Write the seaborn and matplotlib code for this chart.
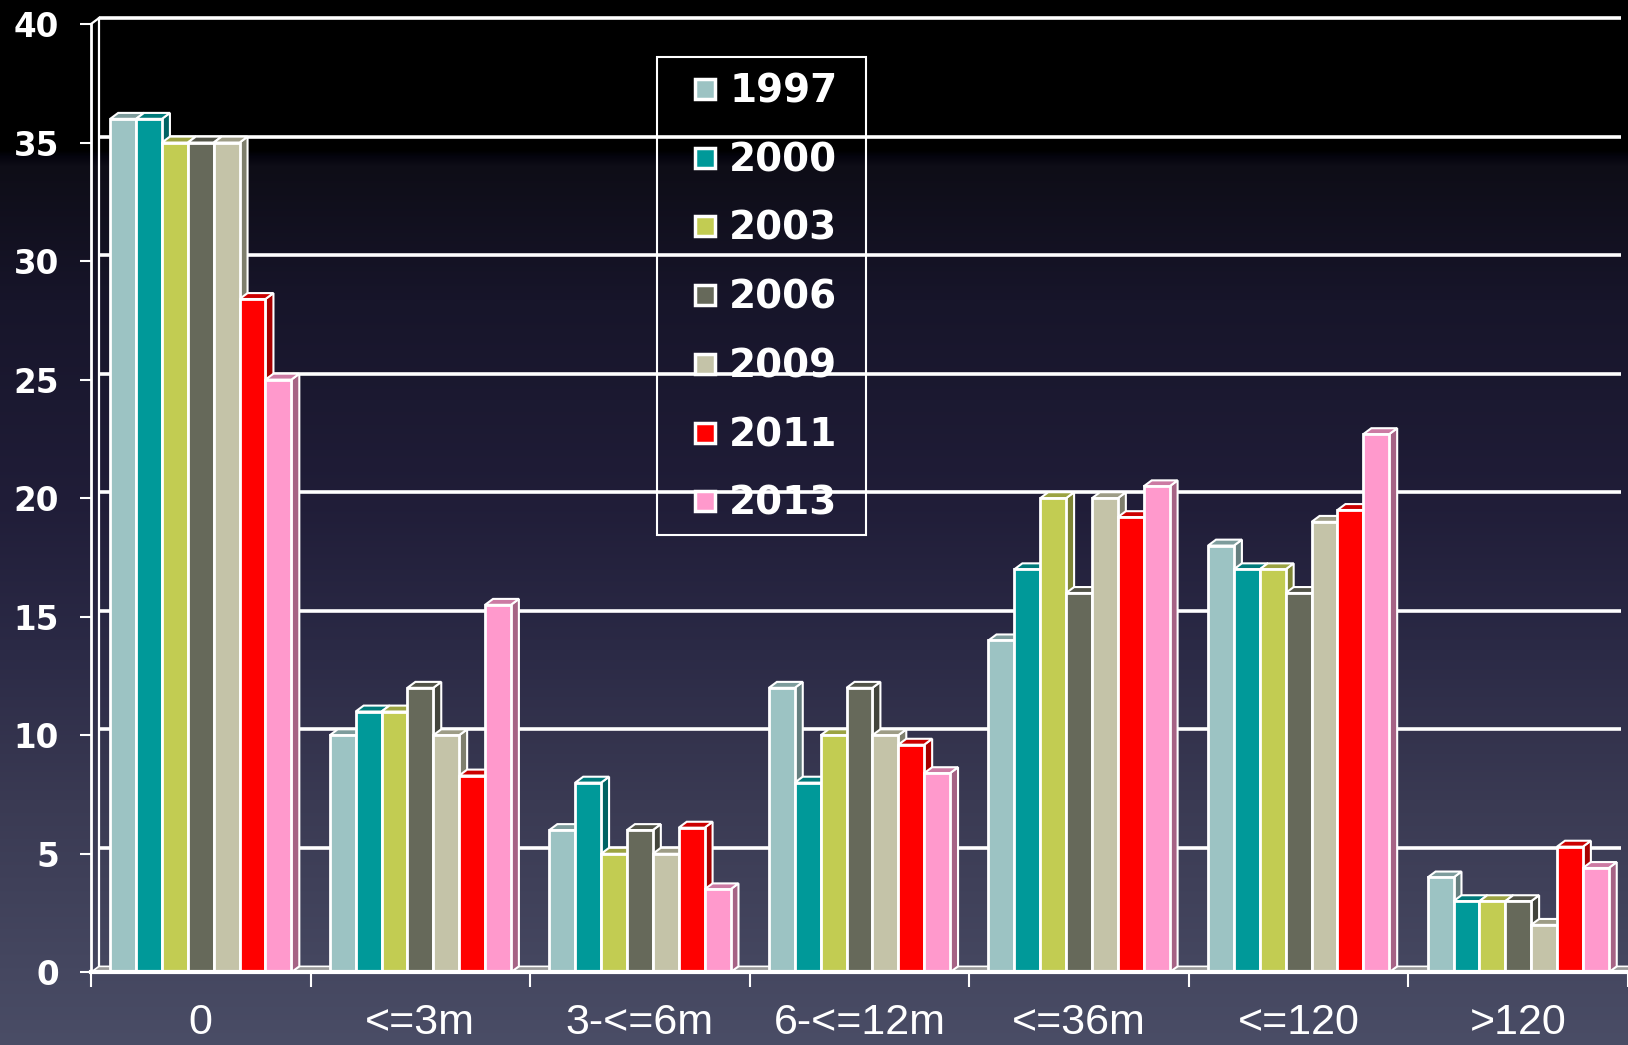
import numpy as np
import pandas as pd
import matplotlib
matplotlib.use("Agg")
import matplotlib.pyplot as plt
import seaborn as sns
from matplotlib.patches import Polygon, Rectangle
from matplotlib.lines import Line2D
from matplotlib.colors import to_rgb

# ---------------- data ----------------
categories = ['0', '<=3m', '3-<=6m', '6-<=12m', '<=36m', '<=120', '>120']
years = ['1997', '2000', '2003', '2006', '2009', '2011', '2013']
v1997 = [36, 10, 6, 12, 14, 18, 4]
v2000 = [36, 11, 8, 8, 17, 17, 3]
v2003 = [35, 11, 5, 10, 20, 17, 3]
v2006 = [35, 12, 6, 12, 16, 16, 3]
v2009 = [35, 10, 5, 10, 20, 19, 2]
v2011 = [28.4, 8.3, 6.1, 9.6, 19.2, 19.5, 5.3]
v2013 = [25, 15.5, 3.5, 8.4, 20.5, 22.7, 4.4]
yticks = [0, 5, 10, 15, 20, 25, 30, 35, 40]

colors = ['#9cc3c3', '#009999', '#c2cc52', '#66695a', '#c4c3a8', '#ff0000', '#ff99cc']

series = [v1997, v2000, v2003, v2006, v2009, v2011, v2013]
rows = []
for yr, vals in zip(years, series):
    for c, v in zip(categories, vals):
        rows.append({'cat': c, 'year': yr, 'val': v})
df = pd.DataFrame(rows)

# ---------------- figure ----------------
W, H = 1628, 1045
fig = plt.figure(figsize=(W / 100, H / 100), dpi=100)

# background gradient
stops_y = [0, 150, 156, 166, 300, 500, 650, 800, 1045]
stops_c = ['#000000', '#000000', '#04040e', '#0e0d17', '#17152a', '#201d38',
           '#2b2a46', '#3a3a53', '#4a4d66']
rgb = np.array([to_rgb(c) for c in stops_c])
yy = np.arange(H)
grad = np.stack([np.interp(yy, stops_y, rgb[:, k]) for k in range(3)], axis=1)
grad = np.repeat(grad[:, None, :], 4, axis=1)
bg = fig.add_axes([0, 0, 1, 1], zorder=0)
bg.imshow(grad, aspect='auto', extent=[0, 1, 0, 1], interpolation='bilinear')
bg.axis('off')

left_px, zero_px, top_px = 91, 972.3, 24
cat_px = 220.6
ax = fig.add_axes([left_px / W, 1 - zero_px / H, (W - left_px) / W, (zero_px - top_px) / H], zorder=1)
ax.set_facecolor('none')

sns.barplot(data=df, x='cat', y='val', hue='year', order=categories, hue_order=years,
            palette=colors, width=0.825, saturation=1, edgecolor='white', linewidth=2,
            ax=ax, legend=False, errorbar=None)

xmin = -0.5
xmax = -0.5 + (W - left_px) / cat_px
ax.set_xlim(xmin, xmax)
ax.set_ylim(0, 40)

dx = 8 / cat_px
dy = 0.25


def shade(c, f):
    r, g, b = to_rgb(c)
    return (r * f, g * f, b * f)


# 3D faces for each bar
for j, cont in enumerate(ax.containers):
    c = colors[j]
    for bar in cont:
        x = bar.get_x(); w = bar.get_width(); h = bar.get_height()
        base = 5 + 3 * j
        bar.set_zorder(base + 2)
        side = Polygon([(x + w, 0), (x + w + dx, dy), (x + w + dx, h + dy), (x + w, h)],
                       closed=True, fc=shade(c, 0.65), ec='white', lw=1.5, zorder=base,
                       clip_on=False)
        top = Polygon([(x, h), (x + dx, h + dy), (x + w + dx, h + dy), (x + w, h)],
                      closed=True, fc=shade(c, 0.8), ec='white', lw=1.5, zorder=base + 1,
                      clip_on=False)
        ax.add_patch(side)
        ax.add_patch(top)

# back-wall gridlines
for v in yticks[1:]:
    ax.plot([xmin + dx, xmax], [v + dy, v + dy], color='white', lw=2.6, zorder=1.5,
            clip_on=False, solid_capstyle='butt')
# back wall left edge & top diagonal
ax.plot([xmin + dx, xmin + dx], [dy, 40 + dy], color='white', lw=1.6, zorder=1.6, clip_on=False)
ax.plot([xmin, xmin + dx], [40, 40 + dy], color='white', lw=1.6, zorder=1.6, clip_on=False)
# floor
floor = Polygon([(xmin, 0), (xmax + 1, 0), (xmax + 1 + dx, dy), (xmin + dx, dy)], closed=True,
                fc='#9a9a9a', ec='white', lw=1.2, zorder=2, clip_on=False)
ax.add_patch(floor)

# spines
for s in ['top', 'right']:
    ax.spines[s].set_visible(False)
ax.spines['left'].set_color('white')
ax.spines['left'].set_linewidth(2)
ax.spines['bottom'].set_color('white')
ax.spines['bottom'].set_linewidth(3)
ax.spines['bottom'].set_zorder(40)
ax.spines['left'].set_zorder(40)

# y ticks
ax.set_yticks(yticks)
ax.set_yticklabels([str(v) for v in yticks], fontsize=23.5, fontweight='bold',
                   family='DejaVu Sans', color='white')
ax.tick_params(axis='y', colors='white', length=8, width=1.5, pad=15)

# x ticks: majors at boundaries, minors (labels) at centers
ax.set_xticks(np.arange(-0.5, 7.0, 1.0))
ax.set_xticklabels([])
ax.set_xticks(np.arange(len(categories)), minor=True)
ax.set_xticklabels(categories, minor=True, fontsize=31, family='Liberation Sans', color='white')
ax.tick_params(axis='x', which='major', length=11, width=1.5, color='white', direction='out')
ax.tick_params(axis='x', which='minor', length=0, pad=22)
ax.set_xlabel('')
ax.set_ylabel('')

# legend
handles = [Line2D([], [], marker='s', ls='none', markersize=14, markerfacecolor=c,
                  markeredgecolor='white', markeredgewidth=2.5) for c in colors]
leg = fig.legend(handles, years, loc='upper left',
                 bbox_to_anchor=(689.5 / W, 1 - 72.5 / H), frameon=False,
                 borderpad=0, borderaxespad=0, handlelength=0.8, handletextpad=0.22,
                 labelspacing=0.79, prop={'family': 'DejaVu Sans', 'weight': 'bold', 'size': 28},
                 labelcolor='white')
leg.set_zorder(10)
fig.add_artist(Rectangle((657 / W, 1 - 535 / H), 209 / W, 478 / H, transform=fig.transFigure,
                         fill=False, ec='white', lw=1.5, zorder=10))

fig.savefig('out.png', dpi=100)
